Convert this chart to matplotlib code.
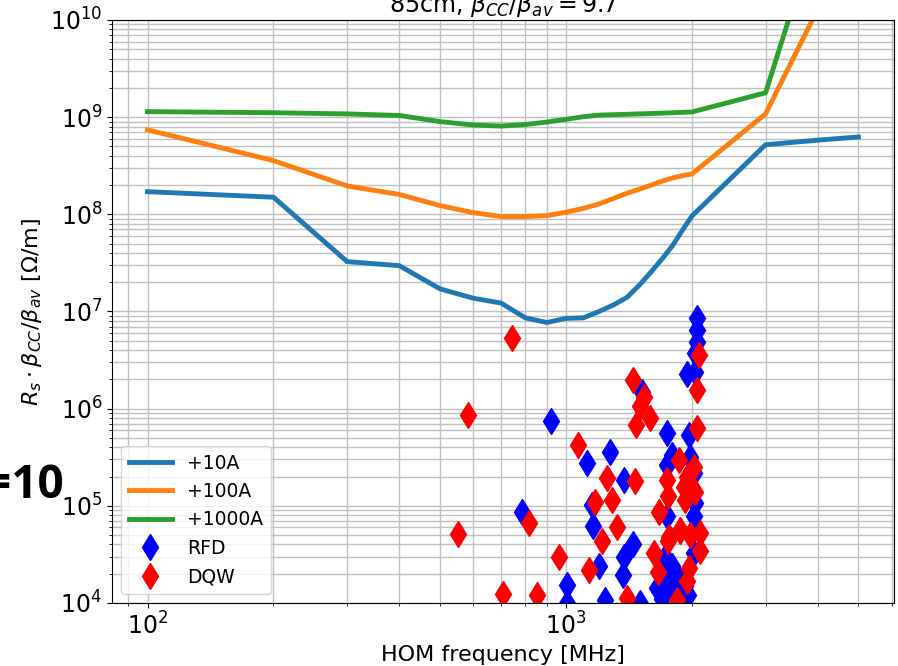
import numpy as np
import matplotlib
matplotlib.use('Agg')
from matplotlib import pyplot as plt

# threshold curves (HOM frequency in MHz)
f_line = [100, 200, 300, 400, 500, 600, 700, 800, 900, 1000, 1100, 1200,
          1300, 1400, 1500, 1600, 1700, 1800, 1900, 2000, 3000, 4000, 5000]
r_10A = [1.71e8, 1.5e8, 3.26e7, 2.96e7, 1.71e7, 1.37e7, 1.22e7, 8.6e6, 7.7e6, 8.5e6,
         8.6e6, 1.0e7, 1.17e7, 1.4e7, 1.88e7, 2.57e7, 3.5e7, 4.8e7, 6.9e7, 9.6e7,
         5.2e8, 5.8e8, 6.25e8]
r_100A = [7.4e8, 3.57e8, 1.96e8, 1.6e8, 1.23e8, 1.04e8, 9.5e7, 9.5e7, 9.7e7, 1.05e8,
          1.15e8, 1.28e8, 1.46e8, 1.65e8, 1.82e8, 2.0e8, 2.2e8, 2.37e8, 2.5e8, 2.6e8,
          1.08e9, 1.3e10, 1e11]
r_1000A = [1.14e9, 1.11e9, 1.08e9, 1.04e9, 9.0e8, 8.3e8, 8.1e8, 8.4e8, 8.9e8, 9.5e8,
           1.01e9, 1.05e9, 1.06e9, 1.07e9, 1.08e9, 1.09e9, 1.1e9, 1.11e9, 1.12e9, 1.13e9,
           1.78e9, 9e10, 5e11]

# HOM impedances
f_rfd = [784, 921, 1004, 1005, 1121, 1152, 1158, 1201, 1240, 1274, 1376, 1376, 1371,
         1444, 1504, 1518, 1649, 1725, 1741, 1741, 1741, 1790, 1790, 1842, 1893, 1927,
         1945, 1973, 1982, 2020, 2037, 2020, 2020, 2055, 2055, 2055, 2037, 2037,
         1700, 1900, 1960, 1700, 1760, 1810]
r_rfd = [8.7e4, 7.4e5, 1.54e4, 1.0e4, 2.75e5, 1.02e5, 6.2e4, 2.4e4, 1.08e4, 3.6e5, 1.85e5, 3.0e4, 1.95e4,
         4.0e4, 1.0e4, 1.5e6, 1.42e4, 3.0e4, 5.6e5, 2.64e5, 7.8e4, 3.35e5, 2.4e4, 1.88e4, 1.37e4, 1.48e4,
         2.3e6, 5.4e5, 3.2e5, 2.17e5, 1.07e5, 7.8e4, 3.3e4, 8.5e6, 6.5e6, 4.9e6, 3.7e6, 2.4e6,
         1.1e4, 1.05e4, 1.2e4, 2.0e4, 1.6e4, 1.3e4]

f_dqw = [552, 584, 706, 745, 814, 855, 964, 1070, 1137, 1173, 1217, 1251, 1289, 1322,
         1396, 1465, 1444, 1539, 1504, 1470, 1588, 1623, 1663, 1672, 1766, 1741, 1758,
         1867, 1875, 1910, 1945, 1927, 1973, 1950, 1982, 2028, 2037, 2055, 2055, 2081,
         2094, 2094, 1842, 1757, 1875]
r_dqw = [5.1e4, 8.6e5, 1.24e4, 5.3e6, 6.6e4, 1.22e4, 3.0e4, 4.25e5, 2.2e4, 1.1e5, 4.3e4, 1.93e5, 1.15e5, 6.1e4,
         1.12e4, 1.78e5, 1.98e6, 1.33e6, 1.07e6, 6.8e5, 8.0e5, 3.3e4, 2.1e4, 8.7e4, 4.8e4, 1.85e5, 1.25e5,
         2.97e5, 5.7e4, 1.58e5, 2.0e5, 1.15e5, 2.3e4, 1.7e4, 5.0e4, 2.5e5, 1.4e5, 6.3e5, 1.56e6, 3.6e6,
         5.2e4, 3.4e4, 1.08e4, 4.3e4, 5.5e4]

fig = plt.figure(figsize=(8.98, 6.66), dpi=100)
ax = fig.add_axes([0.1247, 0.0946, 0.8708, 0.8754])

ax.loglog(f_line, r_10A, lw=3.5, label='+10A')
ax.loglog(f_line, r_100A, lw=3.5, label='+100A')
ax.loglog(f_line, r_1000A, lw=3.5, label='+1000A')
ax.loglog(f_rfd, r_rfd, 'bd', ms=13, ls='none', label='RFD')
ax.loglog(f_dqw, r_dqw, 'rd', ms=13, ls='none', label='DQW')

ax.set_xlim(10**1.915, 10**3.784)
ax.set_ylim(1e4, 1e10)
ax.grid(True, which='both', color='#c0c0c0', lw=1.0)
ax.tick_params(labelsize=17)
ax.set_xlabel('HOM frequency [MHz]', fontsize=16)
ax.set_ylabel(r'$R_s \cdot \beta_{CC}/\beta_{av}$ [$\Omega$/m]', fontsize=16)
ax.set_title(r'85cm, $\beta_{CC}/\beta_{av} = 9.7$', fontsize=17)
ax.legend(loc='lower left', fontsize=13.5, numpoints=1, handlelength=2.3)

# label of a neighbouring panel, mostly outside this crop
fig.text(64/898, 1-498/666, '=10', ha='right', va='baseline',
         fontsize=33, fontweight='bold', family='Open Sans')

fig.savefig('out.png', dpi=100)
